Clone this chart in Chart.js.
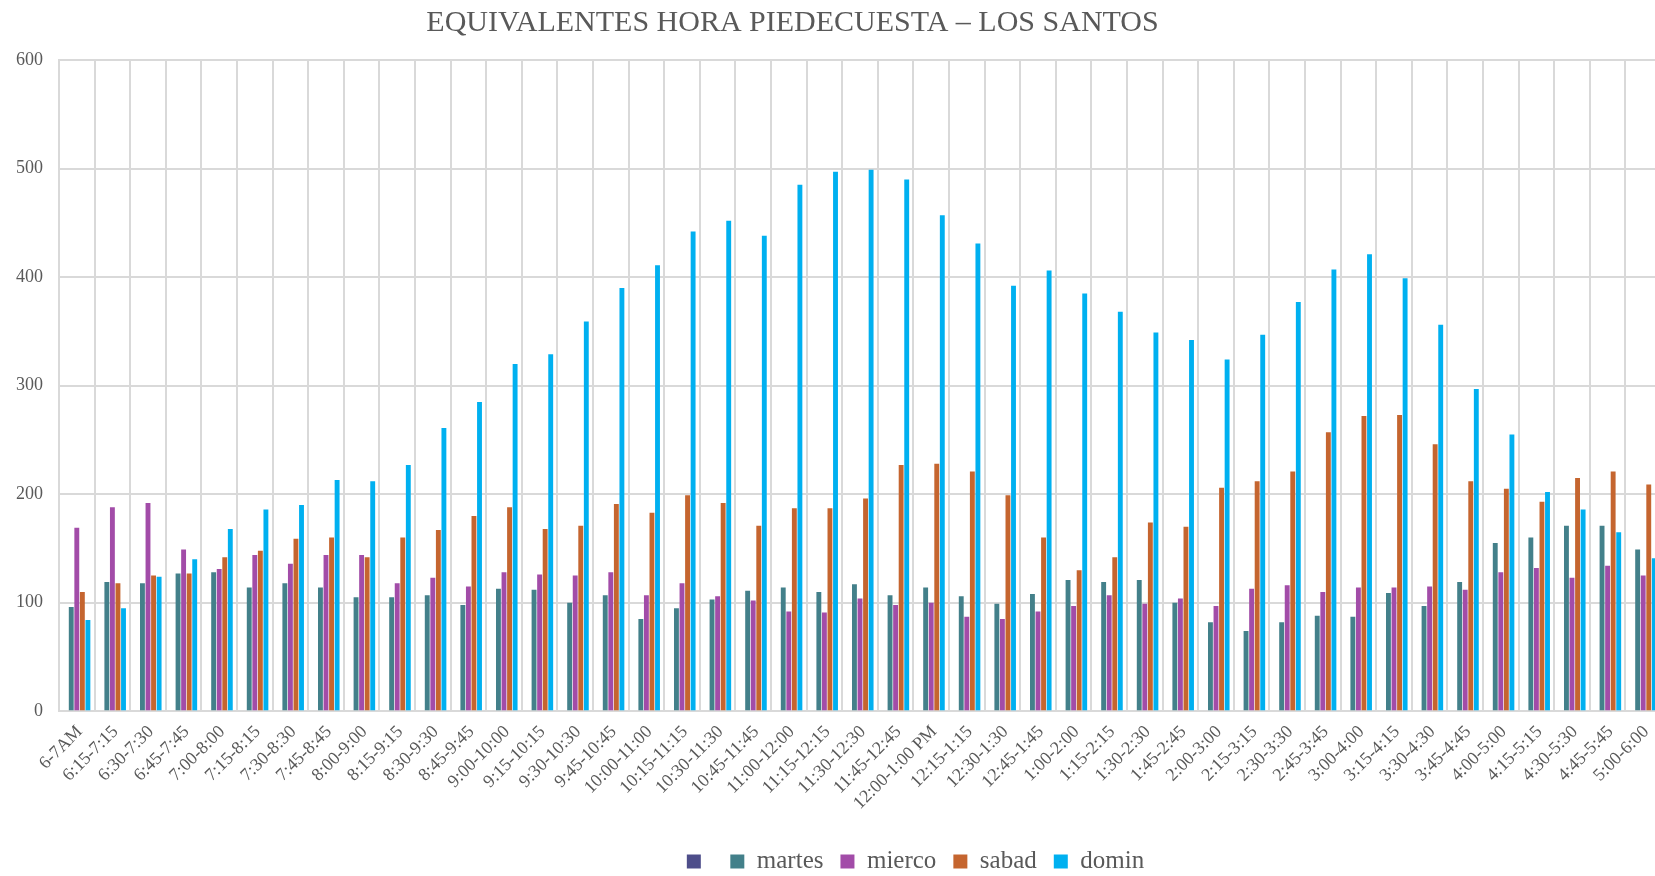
<!DOCTYPE html>
<html>
<head>
<meta charset="utf-8">
<script src="https://cdn.jsdelivr.net/npm/chart.js@4"></script>
<style>
  html, body { margin: 0; padding: 0; overflow: hidden; background: #fff; }
  #wrap { width: 1665px; height: 884px; }
</style>
</head>
<body>
<div id="wrap"><canvas id="myChart"></canvas></div>
<script>
const horas = ["6-7AM", "6:15-7:15", "6:30-7:30", "6:45-7:45", "7:00-8:00", "7:15-8:15", "7:30-8:30", "7:45-8:45",
    "8:00-9:00", "8:15-9:15", "8:30-9:30", "8:45-9:45", "9:00-10:00", "9:15-10:15", "9:30-10:30", "9:45-10:45",
    "10:00-11:00", "10:15-11:15", "10:30-11:30", "10:45-11:45", "11:00-12:00", "11:15-12:15", "11:30-12:30", "11:45-12:45",
    "12:00-1:00 PM", "12:15-1:15", "12:30-1:30", "12:45-1:45", "1:00-2:00", "1:15-2:15", "1:30-2:30", "1:45-2:45",
    "2:00-3:00", "2:15-3:15", "2:30-3:30", "2:45-3:45", "3:00-4:00", "3:15-4:15", "3:30-4:30", "3:45-4:45",
    "4:00-5:00", "4:15-5:15", "4:30-5:30", "4:45-5:45", "5:00-6:00"];

// first series has no name and no values in the original
const sinNombre = horas.map(() => null);
const martes = [96, 119, 118, 127, 128, 114, 118, 114, 105, 105, 107, 98, 113, 112, 100, 107, 85, 95, 103, 111, 114, 110, 117, 107,
    114, 106, 99, 108, 121, 119, 121, 100, 82, 74, 82, 88, 87, 109, 97, 119, 155, 160, 171, 171, 149];
const mierco = [169, 188, 192, 149, 131, 144, 136, 144, 144, 118, 123, 115, 128, 126, 125, 128, 107, 118, 106, 102, 92, 91, 104, 98,
    100, 87, 85, 92, 97, 107, 99, 104, 97, 113, 116, 110, 114, 114, 115, 112, 128, 132, 123, 134, 125];
const sabad = [110, 118, 125, 127, 142, 148, 159, 160, 142, 160, 167, 180, 188, 168, 171, 191, 183, 199, 192, 171, 187, 187, 196, 227,
    228, 221, 199, 160, 130, 142, 174, 170, 206, 212, 221, 257, 272, 273, 246, 212, 205, 193, 215, 221, 209];
const domin = [84, 95, 124, 140, 168, 186, 190, 213, 212, 227, 261, 285, 320, 329, 359, 390, 411, 442, 452, 438, 485, 497, 499, 490,
    457, 431, 392, 406, 385, 368, 349, 342, 324, 347, 377, 407, 421, 399, 356, 297, 255, 202, 186, 165, 141];
const yTicks = [0, 100, 200, 300, 400, 500, 600];

const gris = '#595959';
const serif = 'Liberation Serif, Times New Roman, serif';

// the original title and legend are not centred on the canvas: shift them sideways
const shiftBoxes = {
    id: 'shiftBoxes',
    afterLayout(chart) {
        const t = chart.titleBlock, l = chart.legend;
        if (t) { t.left -= 38; t.right -= 38; }
        if (l) { l.left += 85; l.right += 85; }
    }
};

let ctx = document.getElementById('myChart').getContext('2d');
let chart = new Chart(ctx, {
    type: 'bar',
    data: {
        labels: horas,
        datasets: [
            { label: '', data: sinNombre, backgroundColor: '#4e4e8a' },
            { label: 'martes', data: martes, backgroundColor: '#43808a' },
            { label: 'mierco', data: mierco, backgroundColor: '#a24ca8' },
            { label: 'sabad', data: sabad, backgroundColor: '#c5652f' },
            { label: 'domin', data: domin, backgroundColor: '#00b0f0' }
        ]
    },
    plugins: [shiftBoxes],
    options: {
        responsive: true,
        maintainAspectRatio: false,
        animation: false,
        datasets: { bar: { categoryPercentage: 0.78, barPercentage: 0.88 } },
        layout: { padding: { left: 0, right: 4, top: 0, bottom: 0 } },
        plugins: {
            title: {
                display: true,
                text: 'EQUIVALENTES HORA PIEDECUESTA – LOS SANTOS',
                color: gris,
                font: { family: serif, size: 30, weight: 'normal' },
                padding: { top: 5, bottom: 19 }
            },
            legend: {
                position: 'bottom',
                labels: {
                    color: gris,
                    font: { family: serif, size: 25 },
                    boxWidth: 14,
                    boxHeight: 14,
                    padding: 17
                }
            },
            tooltip: { enabled: false }
        },
        scales: {
            x: {
                grid: { color: '#d9d9d9', lineWidth: 2, drawTicks: false },
                border: { color: '#d9d9d9', width: 2 },
                ticks: {
                    color: gris,
                    font: { family: serif, size: 18 },
                    minRotation: 45,
                    maxRotation: 45,
                    autoSkip: false,
                    padding: 10,
                    labelOffset: 3
                },
                afterFit: s => { s.paddingLeft = 0; s.paddingRight = 0; s.height += 8; }
            },
            y: {
                min: 0,
                max: 600,
                afterBuildTicks: axis => { axis.ticks = yTicks.map(v => ({ value: v })); },
                grid: { color: '#d9d9d9', lineWidth: 2, drawTicks: false },
                border: { color: '#d9d9d9', width: 2 },
                ticks: {
                    color: gris,
                    font: { family: serif, size: 18 },
                    padding: 16
                }
            }
        }
    }
});
</script>
</body>
</html>
